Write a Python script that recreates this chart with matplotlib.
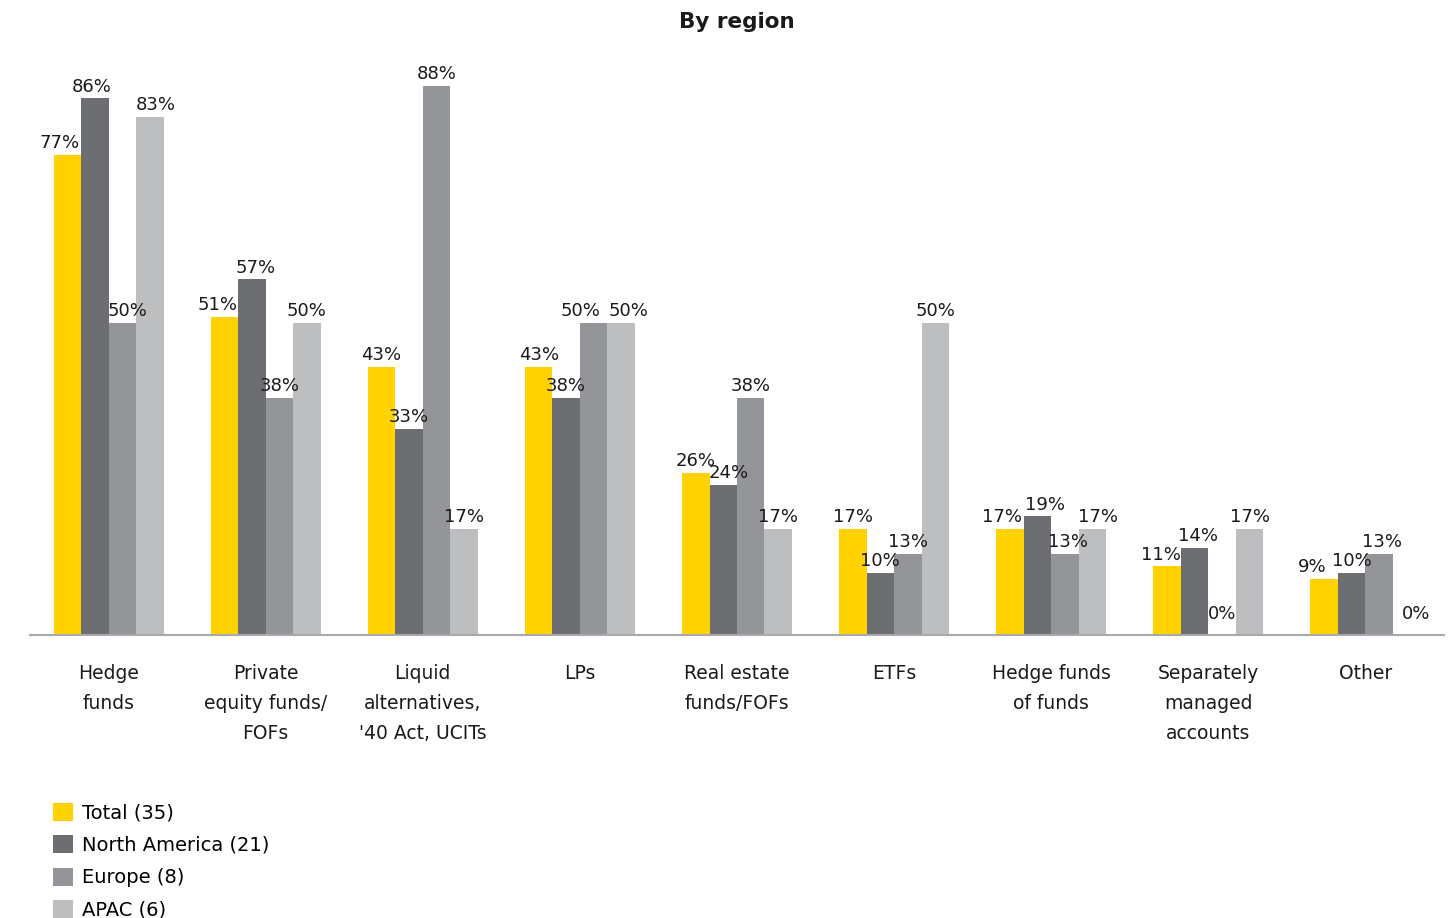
import numpy as np
import matplotlib.pyplot as plt
from matplotlib.patches import Patch

# ------------------------------------------------------------
#  data
# ------------------------------------------------------------
categories = [
    "Hedge\nfunds",
    "Private\nequity funds/\nFOFs",
    "Liquid\nalternatives,\n'40 Act, UCITs",
    "LPs",
    "Real estate\nfunds/FOFs",
    "ETFs",
    "Hedge funds\nof funds",
    "Separately\nmanaged\naccounts",
    "Other",
]
series_names = ["Total (35)", "North America (21)", "Europe (8)", "APAC (6)"]

total = [77, 51, 43, 43, 26, 17, 17, 11, 9]
north_america = [86, 57, 33, 38, 24, 10, 19, 14, 10]
europe = [50, 38, 88, 50, 38, 13, 13, 0, 13]
apac = [83, 50, 17, 50, 17, 50, 17, 17, 0]

colors = ["#FFD200", "#6D6E71", "#939598", "#BDBEC0"]

# label nudges in pixels (category, series) -> dx, so crowded labels don't collide
nudge = {
    (0, 0): -8, (0, 1): -3, (0, 2): 5, (0, 3): 6,
    (1, 0): -7, (1, 1): 4,
    (3, 2): -13, (3, 3): 7,
    (4, 1): 5,
    (6, 0): -8, (6, 1): 8, (6, 2): 3, (6, 3): 6,
    (7, 0): -6, (7, 1): 3,
    (8, 0): -12, (8, 2): 3, (8, 3): 9,
}

# ------------------------------------------------------------
#  figure
# ------------------------------------------------------------
plt.rcParams["font.family"] = ["DejaVu Sans"]

fig = plt.figure(figsize=(14.5, 9.18), dpi=100)
ax = fig.add_axes([30 / 1450, 283 / 918, 1414 / 1450, 575 / 918])

x = np.arange(len(categories))
w = 0.175
offsets = (np.arange(4) - 1.5) * w

for j, (vals, off, col) in enumerate(zip([total, north_america, europe, apac], offsets, colors)):
    bars = ax.bar(x + off, vals, width=w, color=col, linewidth=0)
    for i, (b, v) in enumerate(zip(bars, vals)):
        dx = nudge.get((i, j), 0) * 0.72
        dy = 2 if v > 0 else 8.5
        ax.annotate(f"{v}%", (b.get_x() + b.get_width() / 2, v),
                    xytext=(dx, dy), textcoords="offset points",
                    ha="center", va="bottom", fontsize=13, color="#1a1a1a")

ax.set_xlim(-0.5, len(categories) - 0.5)
ax.set_ylim(0, 92.15)

for s in ["top", "right", "left"]:
    ax.spines[s].set_visible(False)
ax.spines["bottom"].set_color("#A7A9AC")
ax.spines["bottom"].set_linewidth(1.5)
ax.set_yticks([])
ax.set_xticks(x)
ax.set_xticklabels(categories, fontsize=13.5, color="#1a1a1a", linespacing=1.72)
ax.tick_params(axis="x", length=0, pad=21)

fig.text(737 / 1450, 1 - 22 / 918, "By region", ha="center", va="center",
         fontsize=15.5, fontweight="bold", color="#1a1a1a")

handles = [Patch(facecolor=c, edgecolor="none") for c in colors]
fig.legend(handles, series_names, loc="upper left",
           bbox_to_anchor=(53 / 1450, 1 - 803 / 918), frameon=False,
           fontsize=14, handlelength=1.03, handleheight=1.03,
           handletextpad=0.46, labelspacing=0.66, borderpad=0,
           borderaxespad=0)

fig.savefig("out.png", dpi=100)
